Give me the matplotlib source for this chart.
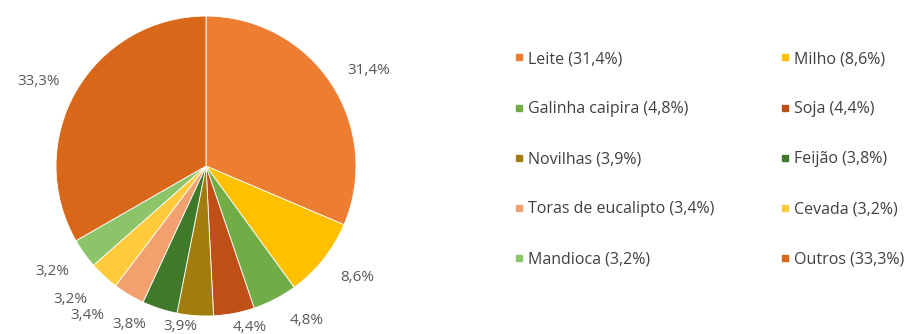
import numpy as np
import matplotlib.pyplot as plt
from matplotlib.lines import Line2D

plt.rcParams['font.family'] = ['Open Sans', 'DejaVu Sans']

### DATA ###

produtos = ['Leite', 'Milho', 'Galinha caipira', 'Soja', 'Novilhas',
            'Feijão', 'Toras de eucalipto', 'Cevada', 'Mandioca', 'Outros']
valores = [31.4, 8.6, 4.8, 4.4, 3.9, 3.8, 3.4, 3.2, 3.2, 33.3]
cores = ['#ED7D31', '#FFC000', '#70AD47', '#BF4F16', '#A07D0C',
         '#3F7A2A', '#F2A06E', '#FFCB3A', '#8CC46A', '#D8671A']


def fmt(v):
    """ portuguese decimal comma """
    return '{:.1f}%'.format(v).replace('.', ',')


### FIGURE ###

fig = plt.figure(figsize=(9.15, 3.34), dpi=100)
ax = fig.add_axes([0.0612, 0.0539, 0.3279, 0.898])

wedges, _ = ax.pie(valores, colors=cores, startangle=90, counterclock=False,
                   radius=1.0,
                   wedgeprops=dict(edgecolor='white', linewidth=0.6))
ax.set_xlim(-1, 1)
ax.set_ylim(-1, 1)
ax.set_aspect('equal')

# labels outside the wedges, bottom ones pushed apart so they do not overlap
nudges = [(0.05, -0.05), (0.04, 0.03), (0.10, 0.07), (0.06, 0.14),
          (-0.08, 0.167), (-0.13, 0.124), (-0.156, 0.067), (-0.06, 0.02),
          (-0.02, 0.02), (-0.04, -0.06)]
for i, w in enumerate(wedges):
    ang = np.deg2rad((w.theta1 + w.theta2) / 2)
    r = 1.24
    x, y = r * np.cos(ang), r * np.sin(ang)
    dx, dy = nudges[i]
    ax.text(x + dx, y + dy, fmt(valores[i]), ha='center', va='center',
            fontsize=11, color='#595959', clip_on=False)

### LEGEND ###

order = [0, 2, 4, 6, 8, 1, 3, 5, 7, 9]
handles = [Line2D([], [], marker='s', linestyle='', markersize=5,
                  markerfacecolor=cores[i], markeredgecolor=cores[i])
           for i in order]
labels = ['{} ({})'.format(produtos[i], fmt(valores[i])) for i in order]
leg = fig.legend(handles, labels, ncol=2, loc='upper left',
                 bbox_to_anchor=(0.554, 0.871), frameon=False, fontsize=11.5,
                 labelcolor='#404040', labelspacing=2.13, handlelength=0.5,
                 handletextpad=0.3, columnspacing=4.2, borderpad=0)

fig.savefig('out.png', dpi=100)
